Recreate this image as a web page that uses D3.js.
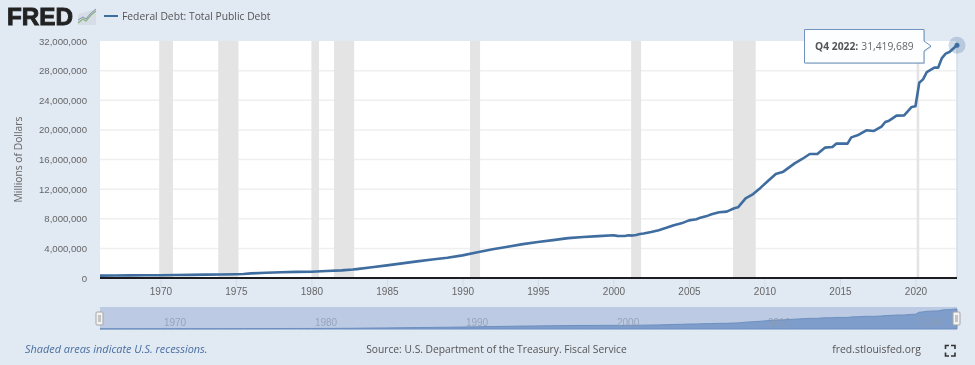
<!DOCTYPE html>
<html lang="en">
<head>
<meta charset="utf-8">
<title>Federal Debt: Total Public Debt</title>
<script src="https://d3js.org/d3.v7.min.js"></script>
<style>
	html, body { margin: 0; padding: 0; background: #e1e9f3; }
	svg { display: block; font-family: "Open Sans", sans-serif; filter: blur(0.35px); }
	text { fill: #5c5c5c; }
</style>
</head>
<body>
<svg id="chart" width="975" height="365"></svg>
<script>
// Debt, millions of dollars, time as decimal year
var years = [1966, 1967, 1968, 1969, 1970, 1971, 1972, 1973, 1974, 1975, 1975.5, 1976, 1977, 1978, 1979, 1980, 1981, 1982, 1982.75,
	1983, 1984, 1985, 1986, 1987, 1988, 1989, 1990, 1991, 1992, 1993, 1994, 1995, 1996, 1997, 1998, 1999,
	2000, 2000.25, 2000.5, 2000.75, 2001, 2001.25, 2001.5, 2001.75, 2002, 2002.5, 2003, 2003.5, 2004, 2004.5, 2005, 2005.5,
	2005.75, 2006.25, 2006.5, 2007, 2007.5, 2008, 2008.25, 2008.75, 2009.25, 2009.75, 2010.25, 2010.75, 2011.25, 2012, 2012.5, 2013, 2013.5,
	2014, 2014.5, 2014.75, 2015.5, 2015.75, 2016.25, 2016.75, 2017.25, 2017.75, 2018, 2018.25, 2018.75, 2019.25, 2019.75, 2020,
	2020.25, 2020.5, 2020.75, 2021.25, 2021.5, 2021.75, 2022, 2022.25, 2022.75]
var debt = [320000, 329000, 350000, 362000, 372000, 399000, 428000, 458000, 474000, 510000, 548000, 620000, 706000, 781000, 826000, 845000, 950000, 1030000, 1142000,
	1201000, 1463000, 1710000, 1973000, 2246000, 2492000, 2740000, 3053000, 3465000, 3882000, 4231000, 4576000, 4865000, 5117000, 5381000, 5540000, 5652000,
	5773000, 5686000, 5674000, 5662000, 5774000, 5727000, 5807000, 5943000, 6006000, 6198000, 6460000, 6783000, 7132000, 7379000, 7776000, 7933000,
	8146000, 8420000, 8600000, 8870000, 8960000, 9410000, 9540000, 10760000, 11340000, 12200000, 13140000, 14040000, 14360000, 15480000, 16070000, 16740000, 16740000,
	17600000, 17690000, 18140000, 18140000, 18990000, 19350000, 19940000, 19850000, 20430000, 21060000, 21240000, 21920000, 21960000, 23090000, 23180000,
	26370000, 26820000, 27810000, 28400000, 28400000, 29700000, 30290000, 30510000, 31419689]

// NBER recessions, start and end
var recessionStart = [1969.92, 1973.83, 1980.0, 1981.5, 1990.5, 2001.17, 2007.92, 2020.08]
var recessionEnd = [1970.83, 1975.17, 1980.5, 1982.83, 1991.17, 2001.83, 2009.42, 2020.25]

var yTicks = [0, 4000000, 8000000, 12000000, 16000000, 20000000, 24000000, 28000000, 32000000]
var xTicks = [1970, 1975, 1980, 1985, 1990, 1995, 2000, 2005, 2010, 2015, 2020]
var navTicks = [1970, 1980, 1990, 2000, 2010, 2020]

var lineColor = "#3f6d9f"
var comma = d3.format(",")

var svg = d3.select("#chart")

var x = d3.scaleLinear().domain([1966, 2022.75]).range([100, 957])
var y = d3.scaleLinear().domain([0, 32000000]).range([278, 41])
var yNav = d3.scaleLinear().domain([0, 31419689]).range([329, 309])

var points = years.map((d, i) => [d, debt[i]])

// plot area
svg.append("rect").attr("x", 100).attr("y", 41).attr("width", 857).attr("height", 237).attr("fill", "#fff")

// grid
svg.append("g").selectAll("line")
	.data(yTicks.slice(1, -1))
	.join("line")
	.attr("x1", 100).attr("x2", 957)
	.attr("y1", d => y(d)).attr("y2", d => y(d))
	.attr("stroke", "#efefef").attr("stroke-width", 1.5)

// recessions
svg.append("g").selectAll("rect")
	.data(recessionStart)
	.join("rect")
	.attr("x", d => x(d))
	.attr("width", (d, i) => x(recessionEnd[i]) - x(d))
	.attr("y", 41).attr("height", 237)
	.attr("fill", "#e4e4e4")

svg.append("line").attr("x1", 957).attr("x2", 957).attr("y1", 41).attr("y2", 278).attr("stroke", "#d5dde9").attr("stroke-width", 1.5)

// y axis
var yAxis = svg.append("g").attr("transform", "translate(87,0)")
	.call(d3.axisLeft(y).tickValues(yTicks).tickFormat(comma).tickSize(0).tickPadding(0))
yAxis.select(".domain").remove()
yAxis.selectAll("text").style("font-size", "9.6px").style("fill", "#666").attr("dy", "0.32em")

svg.append("text")
	.attr("transform", "translate(22,159.5) rotate(-90)")
	.attr("text-anchor", "middle")
	.style("font-size", "10.3px").style("fill", "#666")
	.text("Millions of Dollars")

// x axis
var xAxis = svg.append("g").attr("transform", "translate(0,278)")
	.call(d3.axisBottom(x).tickValues(xTicks).tickFormat(d3.format("d")).tickSize(9).tickPadding(1))
xAxis.select(".domain").remove()
xAxis.selectAll("line").attr("stroke", "#d3dce9")
xAxis.selectAll("text").style("font-size", "10px").style("fill", "#666")

// debt line
svg.append("path")
	.datum(points)
	.attr("fill", "none")
	.attr("stroke", lineColor)
	.attr("stroke-width", 2.6)
	.attr("stroke-linejoin", "round")
	.attr("d", d3.line().x(d => x(d[0])).y(d => y(d[1])))

svg.append("line").attr("x1", 100).attr("x2", 957).attr("y1", 278).attr("y2", 278).attr("stroke", "#1d1d1f").attr("stroke-width", 2)

// last point marker
var last = points[points.length - 1]
svg.append("circle").attr("cx", x(last[0])).attr("cy", y(last[1])).attr("r", 8.5).attr("fill", lineColor).attr("fill-opacity", 0.25)
svg.append("circle").attr("cx", x(last[0])).attr("cy", y(last[1])).attr("r", 2.5).attr("fill", lineColor)

// tooltip
var tip = svg.append("g")
tip.append("path")
	.attr("d", "M804.5,29.5H924V41L931,46L924,51V63H804.5Z")
	.attr("transform", "translate(1,1)")
	.attr("fill", "#8a9bb0").attr("fill-opacity", 0.35)
tip.append("path")
	.attr("d", "M804.5,29.5H924V41L931,46L924,51V63H804.5Z")
	.attr("fill", "#fdfeff").attr("stroke", "#6f93bd").attr("stroke-width", 1)
var tipText = tip.append("text").attr("x", 815).attr("y", 50).style("font-size", "10.3px")
tipText.append("tspan").style("font-weight", 700).style("fill", "#555").text("Q4 2022:")
tipText.append("tspan").attr("dx", 3).style("fill", "#666").text(comma(last[1]))

// navigator
svg.append("rect").attr("x", 100).attr("y", 307).attr("width", 857).attr("height", 22).attr("fill", "#bccbe3")
svg.append("path")
	.datum(points)
	.attr("fill", "#7f9dca")
	.attr("stroke", "#6d8fc0")
	.attr("d", d3.area().x(d => x(d[0])).y0(329).y1(d => yNav(d[1])))
var navAxis = svg.append("g").attr("transform", "translate(0,326)")
	.call(d3.axisTop(x).tickValues(navTicks).tickFormat(d3.format("d")).tickSize(0).tickPadding(0))
navAxis.select(".domain").remove()
navAxis.selectAll("text").attr("text-anchor", "start").attr("dx", 3)
	.style("font-size", "10px").style("fill", "#8d9ab0").style("fill-opacity", 0.8)

// navigator handles
svg.append("g").selectAll("g")
	.data([1966, 2022.75])
	.join("g")
	.attr("transform", d => "translate(" + x(d) + ",312)")
	.each(function() {
		var h = d3.select(this)
		h.append("rect").attr("x", -4).attr("width", 7).attr("height", 13).attr("rx", 1)
			.attr("fill", "#f2f2f2").attr("stroke", "#a6a6a6")
		h.append("rect").attr("x", -2).attr("y", 3).attr("width", 3).attr("height", 7).attr("fill", "#c4c4c4")
	})

// header
svg.append("text").attr("x", 7).attr("y", 25)
	.style("font-family", "'Liberation Sans', sans-serif")
	.style("font-size", "24px").style("font-weight", 700)
	.style("fill", "#222").attr("stroke", "#222").attr("stroke-width", 0.9)
	.attr("textLength", 66).attr("lengthAdjust", "spacingAndGlyphs")
	.text("FRED")

var logo = svg.append("g").attr("fill", "none")
logo.append("path").attr("d", "M78,25V14L96,9V25Z").attr("fill", "#d6dde6").attr("stroke", "none")
logo.append("polyline").attr("points", "78,23 83,19 86,21 91,15 96,11").attr("stroke", "#8eb07c").attr("stroke-width", 1.2)
logo.append("polyline").attr("points", "78,20 83,17 86,19 90,14 96,9").attr("stroke", "#7d94b3").attr("stroke-width", 1)

svg.append("line").attr("x1", 104).attr("x2", 118).attr("y1", 16).attr("y2", 16).attr("stroke", lineColor).attr("stroke-width", 2)
svg.append("text").attr("x", 122).attr("y", 20).style("font-size", "10.3px").style("fill", "#555").text("Federal Debt: Total Public Debt")

// footer
svg.append("text").attr("x", 25).attr("y", 353).style("font-size", "10.9px").style("font-style", "italic").style("fill", "#4a6f9f")
	.text("Shaded areas indicate U.S. recessions.")
svg.append("text").attr("x", 496.5).attr("y", 353).attr("text-anchor", "middle").style("font-size", "10.25px").style("fill", "#555")
	.text("Source: U.S. Department of the Treasury. Fiscal Service")
svg.append("text").attr("x", 921).attr("y", 353).attr("text-anchor", "end").style("font-size", "10.4px").style("fill", "#555")
	.text("fred.stlouisfed.org")

// fullscreen icon
svg.append("path")
	.attr("d", "M945.5,349V345.5H949M951,345.5H955V349M955,352.5V356H951M949,356H945.5V352.5")
	.attr("fill", "none").attr("stroke", "#333").attr("stroke-width", 1.6)
</script>
</body>
</html>
